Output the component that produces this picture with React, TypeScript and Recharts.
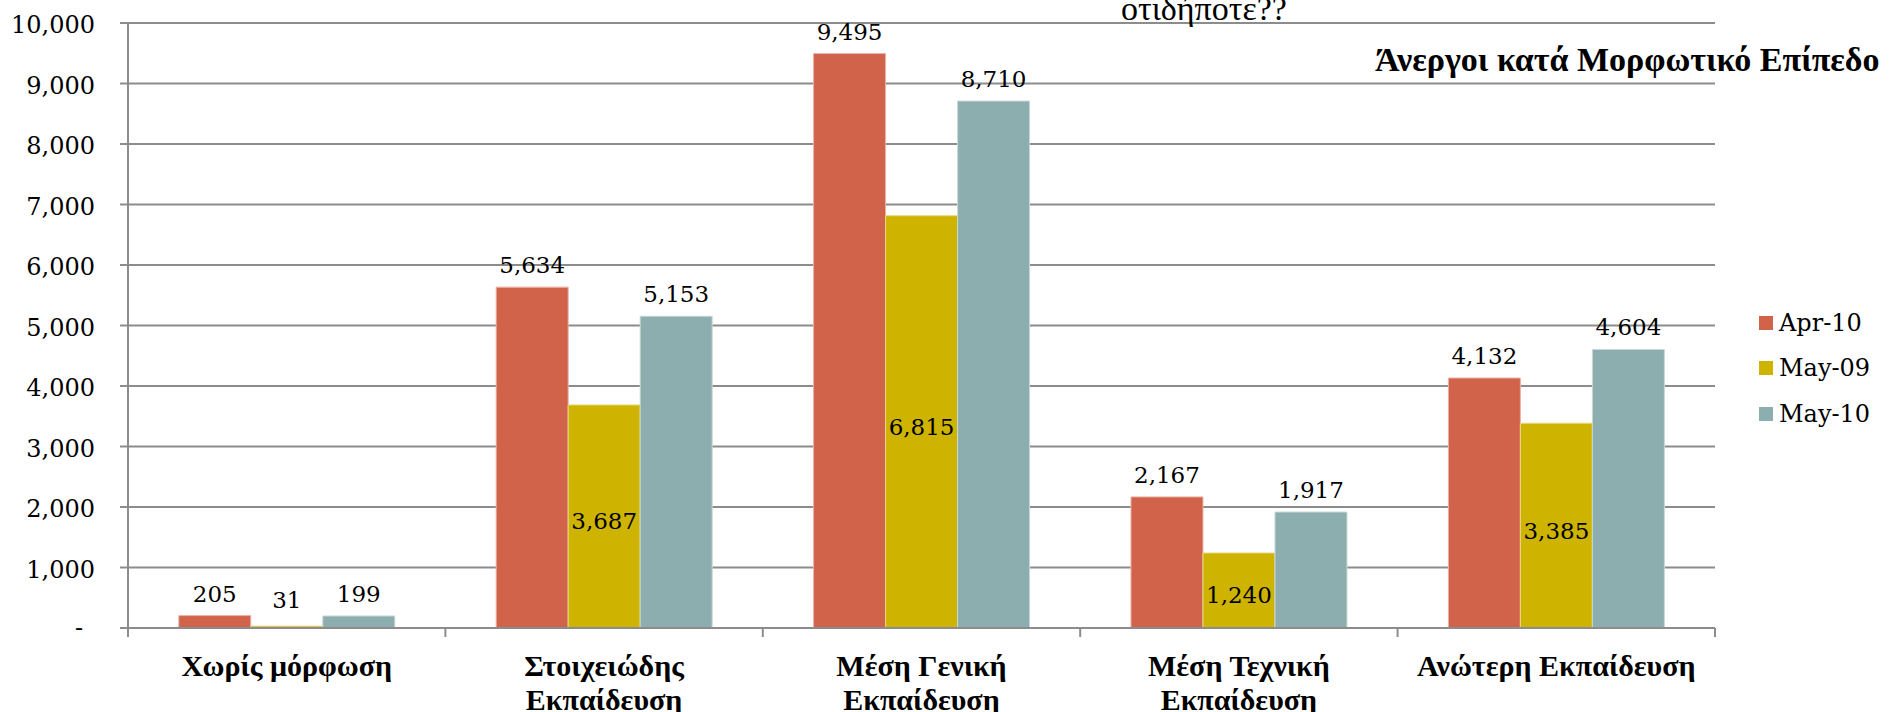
import React from 'react';
import { BarChart, Bar, XAxis, YAxis, CartesianGrid, Legend, LabelList } from 'recharts';

const categories = [
  'Χωρίς μόρφωση',
  'Στοιχειώδης Εκπαίδευση',
  'Μέση Γενική Εκπαίδευση',
  'Μέση Τεχνική Εκπαίδευση',
  'Ανώτερη Εκπαίδευση',
];
const apr10 = [205, 5634, 9495, 2167, 4132];
const may09 = [31, 3687, 6815, 1240, 3385];
const may10 = [199, 5153, 8710, 1917, 4604];
const seriesNames = ['Apr-10', 'May-09', 'May-10'];
const seriesColors = ['#D1634A', '#CEB300', '#8DAEAF'];
const yTicks = [0, 1000, 2000, 3000, 4000, 5000, 6000, 7000, 8000, 9000, 10000];
const titleText = 'Άνεργοι κατά Μορφωτικό Επίπεδο';
const topNote = 'οτιδήποτε??';

const data = categories.map((c, i) => ({ name: c, a: apr10[i], b: may09[i], c: may10[i] }));

const NUM_FONT = "'DejaVu Serif', serif";
const GREEK_FONT = "'Liberation Serif', serif";
const GRID = '#8C8C8C';

const fmt = (v: number) => v.toLocaleString('en-US');

const splitLabel = (s: string): string[] => {
  if (s.length <= 20) return [s];
  const idx = s.lastIndexOf(' ');
  return [s.slice(0, idx), s.slice(idx + 1)];
};

const YTick = (props: any) => {
  const { x, y, payload } = props;
  if (payload.value === 0) {
    return (
      <text x={x - 12} y={y + 8} textAnchor="end" fontFamily={NUM_FONT} fontSize={24} fill="#000">-</text>
    );
  }
  return (
    <text x={x} y={y + 10} textAnchor="end" fontFamily={NUM_FONT} fontSize={24} fill="#000">
      {fmt(payload.value)}
    </text>
  );
};

const XTick = (props: any) => {
  const { x, y, payload, index, visibleTicksCount, width } = props;
  const half = payload && payload.offset ? payload.offset : width / (visibleTicksCount || 5) / 2;
  const axisY = y - 8;
  const lines = splitLabel(String(payload.value));
  return (
    <g>
      <line x1={x - half} x2={x - half} y1={axisY} y2={axisY + 9} stroke={GRID} strokeWidth={2} />
      {index === (visibleTicksCount || 5) - 1 ? (
        <line x1={x + half} x2={x + half} y1={axisY} y2={axisY + 9} stroke={GRID} strokeWidth={2} />
      ) : null}
      {lines.map((l, i) => (
        <text
          key={i}
          x={x}
          y={axisY + 48 + i * 34}
          textAnchor="middle"
          fontFamily={GREEK_FONT}
          fontWeight="bold"
          fontSize={30}
          fill="#000"
        >
          {l}
        </text>
      ))}
    </g>
  );
};

const TopLabel = (props: any) => {
  const { x, y, width, value } = props;
  return (
    <text x={x + width / 2} y={y - 14} textAnchor="middle" fontFamily={NUM_FONT} fontSize={23} fill="#000">
      {fmt(value)}
    </text>
  );
};

const CenterLabel = (props: any) => {
  const { x, y, width, height, value } = props;
  if (height < 30) {
    return (
      <text x={x + width / 2} y={y - 18} textAnchor="middle" fontFamily={NUM_FONT} fontSize={23} fill="#000">
        {fmt(value)}
      </text>
    );
  }
  return (
    <text x={x + width / 2} y={y + height / 2 + 13} textAnchor="middle" fontFamily={NUM_FONT} fontSize={23} fill="#000">
      {fmt(value)}
    </text>
  );
};

const LegendContent = (props: any) => {
  const { payload } = props;
  return (
    <div style={{ width: 130 }}>
      {(payload || []).map((p: any, i: number) => (
        <div key={i} style={{ display: 'flex', alignItems: 'center', height: 45.5 }}>
          <div style={{ width: 14, height: 14, background: p.color, marginRight: 6 }} />
          <span style={{ fontFamily: NUM_FONT, fontSize: 24, color: '#000' }}>{p.value}</span>
        </div>
      ))}
    </div>
  );
};

export default function App() {
  return (
    <div style={{ position: 'absolute', left: 0, top: 0, width: 1890, height: 712, background: '#fff' }}>
      <BarChart
        width={1890}
        height={712}
        data={data}
        margin={{ top: 23, right: 45, bottom: 0, left: 0 }}
        barCategoryGap="16%"
        barGap={0}
      >
        <CartesianGrid vertical={false} stroke={GRID} strokeWidth={2} />
        <XAxis
          dataKey="name"
          height={84}
          axisLine={{ stroke: GRID, strokeWidth: 2 }}
          tickLine={false}
          tickSize={8}
          tickMargin={0}
          interval={0}
          tick={<XTick />}
        />
        <YAxis
          width={128}
          domain={[0, 10000]}
          ticks={yTicks}
          interval={0}
          axisLine={{ stroke: GRID, strokeWidth: 2 }}
          tickLine={{ stroke: GRID, strokeWidth: 2 }}
          tickSize={8}
          tickMargin={25}
          tick={<YTick />}
        />
        <Legend
          layout="vertical"
          align="right"
          verticalAlign="middle"
          content={<LegendContent />}
          wrapperStyle={{ position: 'absolute', left: 1759, top: 300, width: 130, right: 'auto' }}
        />
        <Bar dataKey="a" name={seriesNames[0]} fill={seriesColors[0]} stroke="#E9B3A6" strokeWidth={1} isAnimationActive={false}>
          <LabelList dataKey="a" content={<TopLabel />} />
        </Bar>
        <Bar dataKey="b" name={seriesNames[1]} fill={seriesColors[1]} stroke="#E8DA80" strokeWidth={1} isAnimationActive={false}>
          <LabelList dataKey="b" content={<CenterLabel />} />
        </Bar>
        <Bar dataKey="c" name={seriesNames[2]} fill={seriesColors[2]} stroke="#C8D8D8" strokeWidth={1} isAnimationActive={false}>
          <LabelList dataKey="c" content={<TopLabel />} />
        </Bar>
      </BarChart>
      <svg
        width={1890}
        height={712}
        style={{ position: 'absolute', left: 0, top: 0, pointerEvents: 'none' }}
      >
        <text x={1121} y={20} fontFamily={GREEK_FONT} fontSize={34} fill="#000">{topNote}</text>
        <text x={1375} y={71} fontFamily={GREEK_FONT} fontWeight="bold" fontSize={34} fill="#000">{titleText}</text>
      </svg>
    </div>
  );
}
